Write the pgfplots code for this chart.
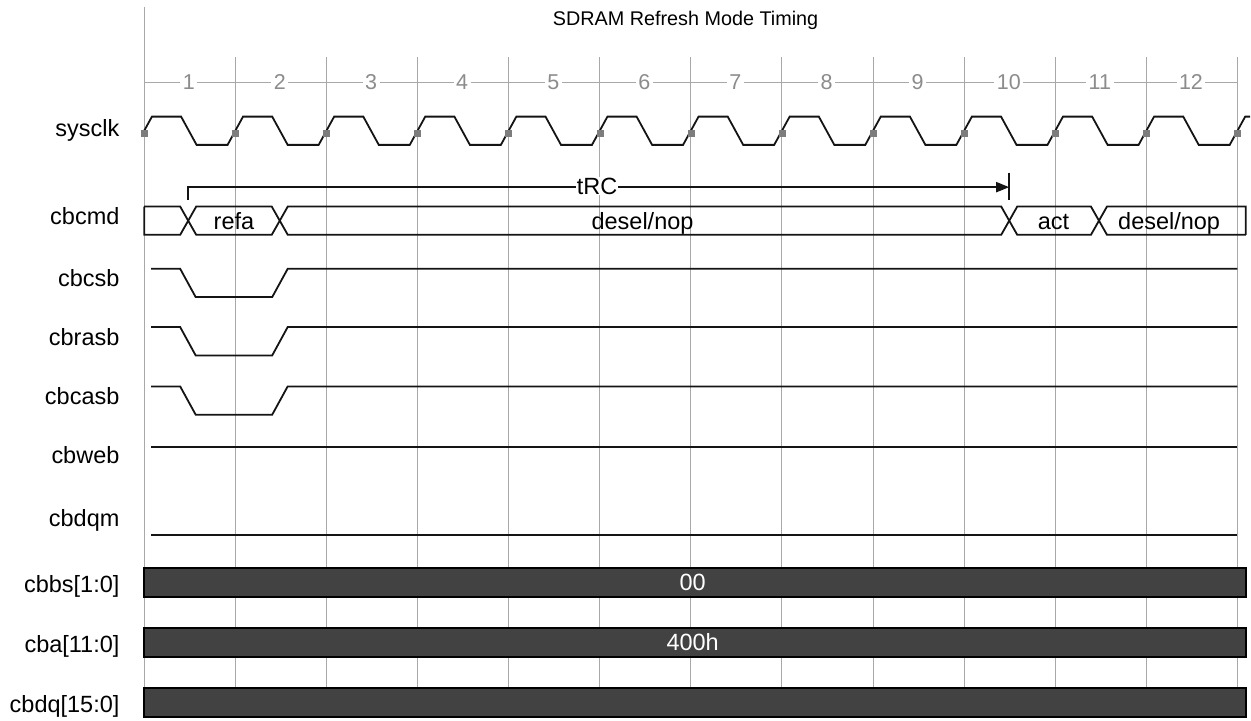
\documentclass[border=0pt]{standalone}
\usepackage{fontspec}
\setmainfont{Liberation Sans}
\usepackage{pgfplots}
\pgfplotsset{compat=1.18}
\usetikzlibrary{arrows.meta}
\definecolor{gridgray}{RGB}{168,168,168}
\definecolor{numgray}{RGB}{140,140,140}
\definecolor{markgray}{RGB}{125,125,125}
\definecolor{busfill}{RGB}{66,66,66}
\definecolor{sig}{RGB}{20,20,20}
\newcommand{\lab}{\fontsize{23.5}{28}\selectfont}
\newcommand{\num}{\fontsize{21.5}{26}\selectfont}
\newcommand{\ttl}{\fontsize{19.8}{24}\selectfont}
\begin{document}
\begin{tikzpicture}
\begin{axis}[
  x=91.17pt, y=1pt, y dir=reverse,
  xmin=-1.5828, xmax=12.139, ymin=0, ymax=719,
  hide axis, clip=false,
]
% page extent
\addplot[draw=none, forget plot] coordinates {(-1.5828,0) (12.139,719)};
% grid lines
\addplot[gridgray, line width=1pt] coordinates {(0,7) (0,719)};
\addplot[gridgray, line width=1pt] coordinates {(1,57.3) (1,719)};
\addplot[gridgray, line width=1pt] coordinates {(2,57.3) (2,719)};
\addplot[gridgray, line width=1pt] coordinates {(3,57.3) (3,719)};
\addplot[gridgray, line width=1pt] coordinates {(4,57.3) (4,719)};
\addplot[gridgray, line width=1pt] coordinates {(5,57.3) (5,719)};
\addplot[gridgray, line width=1pt] coordinates {(6,57.3) (6,719)};
\addplot[gridgray, line width=1pt] coordinates {(7,57.3) (7,719)};
\addplot[gridgray, line width=1pt] coordinates {(8,57.3) (8,719)};
\addplot[gridgray, line width=1pt] coordinates {(9,57.3) (9,719)};
\addplot[gridgray, line width=1pt] coordinates {(10,57.3) (10,719)};
\addplot[gridgray, line width=1pt] coordinates {(11,57.3) (11,719)};
\addplot[gridgray, line width=1pt] coordinates {(12,57.3) (12,719)};
\addplot[gridgray, line width=1pt] coordinates {(0,82.7) (12,82.7)};
% cycle numbers
\foreach \k/\t in {0.49/1,1.49/2,2.49/3,3.49/4,4.49/5,5.49/6,6.49/7,7.49/8,8.49/9,9.49/10,10.49/11,11.49/12}{
  \edef\temp{\noexpand\node[anchor=base, fill=white, inner xsep=2.5pt, inner ysep=2pt, text=numgray, font=\noexpand\num] at (axis cs:\k,89.3) {\t};}
  \temp
}
% title
\node[anchor=base, font=\ttl] at (axis cs:5.942,26) {SDRAM Refresh Mode Timing};
% clock rising-edge markers
\addplot[only marks, mark=square*, mark size=3pt, color=markgray] coordinates {
(0,133.5) (1,133.5) (2,133.5) (3,133.5) (4,133.5) (5,133.5) (6,133.5)
(7,133.5) (8,133.5) (9,133.5) (10,133.5) (11,133.5) (12,133.5)};
% sysclk
\addplot[sig, line width=1.8pt] coordinates {
(0,130.85) (0.085,116.7) (0.405,116.7) (0.575,145) (0.915,145)
(1.085,116.7) (1.405,116.7) (1.575,145) (1.915,145)
(2.085,116.7) (2.405,116.7) (2.575,145) (2.915,145)
(3.085,116.7) (3.405,116.7) (3.575,145) (3.915,145)
(4.085,116.7) (4.405,116.7) (4.575,145) (4.915,145)
(5.085,116.7) (5.405,116.7) (5.575,145) (5.915,145)
(6.085,116.7) (6.405,116.7) (6.575,145) (6.915,145)
(7.085,116.7) (7.405,116.7) (7.575,145) (7.915,145)
(8.085,116.7) (8.405,116.7) (8.575,145) (8.915,145)
(9.085,116.7) (9.405,116.7) (9.575,145) (9.915,145)
(10.085,116.7) (10.405,116.7) (10.575,145) (10.915,145)
(11.085,116.7) (11.405,116.7) (11.575,145) (11.915,145)
(12.085,116.7) (12.139,116.7)};
% tRC
\addplot[sig, line width=1.8pt, -{Triangle[length=13pt,width=10pt]}] coordinates {(0.483,200) (0.483,187.3) (9.495,187.3)};
\addplot[sig, line width=1.8pt] coordinates {(9.495,172.7) (9.495,200)};
\node[anchor=base, fill=white, inner xsep=1pt, inner ysep=1pt, font=\lab] at (axis cs:4.97,194.3) {tRC};
% cbcmd bus
\addplot[sig, line width=1.8pt] coordinates {
(0,206.7) (0.395,206.7) (0.571,235) (1.4,235) (1.576,206.7) (9.407,206.7) (9.583,235)
(10.392,235) (10.568,206.7) (12.092,206.7) (12.092,235)};
\addplot[sig, line width=1.8pt] coordinates {
(0,206.7) (0,235) (0.395,235) (0.571,206.7) (1.4,206.7) (1.576,235) (9.407,235) (9.583,206.7)
(10.392,206.7) (10.568,235) (12.092,235)};
\node[anchor=base, font=\lab] at (axis cs:0.985,229.3) {refa};
\node[anchor=base, font=\lab] at (axis cs:5.47,229.3) {desel/nop};
\node[anchor=base, font=\lab] at (axis cs:9.98,229.3) {act};
\node[anchor=base, font=\lab] at (axis cs:11.25,229.3) {desel/nop};
% control signals
\addplot[sig, line width=1.8pt] coordinates {(0.075,269) (0.395,269) (0.565,297.3) (1.405,297.3) (1.575,269) (12,269)};
\addplot[sig, line width=1.8pt] coordinates {(0.075,327.3) (0.395,327.3) (0.565,355.7) (1.405,355.7) (1.575,327.3) (12,327.3)};
\addplot[sig, line width=1.8pt] coordinates {(0.075,386.7) (0.395,386.7) (0.565,415) (1.405,415) (1.575,386.7) (12,386.7)};
\addplot[sig, line width=1.8pt] coordinates {(0.075,447) (12,447)};
\addplot[sig, line width=1.8pt] coordinates {(0.075,535) (12,535)};
% data buses
\addplot[draw=black, fill=busfill, line width=1.8pt] coordinates {(0,568.3) (12.092,568.3) (12.092,597.3) (0,597.3)} -- cycle;
\addplot[draw=black, fill=busfill, line width=1.8pt] coordinates {(0,628.3) (12.092,628.3) (12.092,657.3) (0,657.3)} -- cycle;
\addplot[draw=black, fill=busfill, line width=1.8pt] coordinates {(0,688.3) (12.092,688.3) (12.092,717.3) (0,717.3)} -- cycle;
\node[anchor=base, font=\lab, text=white] at (axis cs:6.02,590.7) {00};
\node[anchor=base, font=\lab, text=white] at (axis cs:6.02,651) {400h};
% signal names
\node[anchor=base east, font=\lab] at (axis cs:-0.2336,136.7) {sysclk};
\node[anchor=base east, font=\lab] at (axis cs:-0.2336,225) {cbcmd};
\node[anchor=base east, font=\lab] at (axis cs:-0.2336,286.7) {cbcsb};
\node[anchor=base east, font=\lab] at (axis cs:-0.2336,345.7) {cbrasb};
\node[anchor=base east, font=\lab] at (axis cs:-0.2336,405) {cbcasb};
\node[anchor=base east, font=\lab] at (axis cs:-0.2336,464.3) {cbweb};
\node[anchor=base east, font=\lab] at (axis cs:-0.2336,526.7) {cbdqm};
\node[anchor=base east, font=\lab] at (axis cs:-0.2336,593.3) {cbbs[1:0]};
\node[anchor=base east, font=\lab] at (axis cs:-0.2336,653.3) {cba[11:0]};
\node[anchor=base east, font=\lab] at (axis cs:-0.2336,713.3) {cbdq[15:0]};
\end{axis}
\end{tikzpicture}
\end{document}
